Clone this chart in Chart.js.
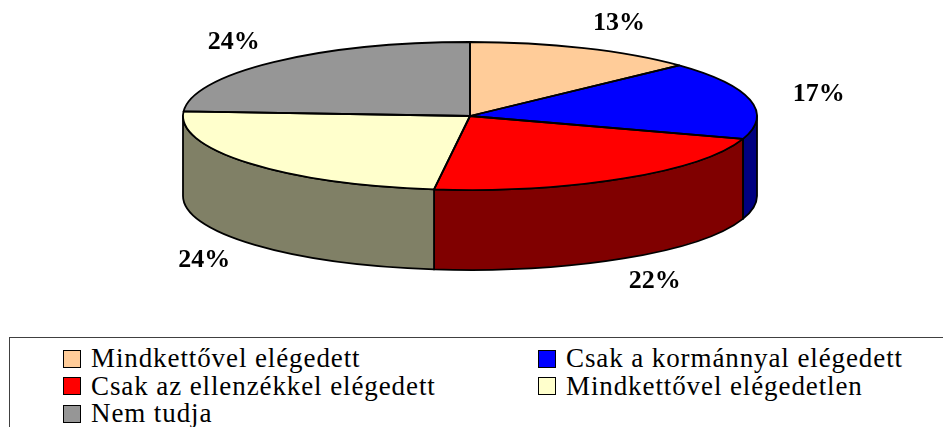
<!DOCTYPE html>
<html>
<head>
<meta charset="utf-8">
<script src="https://cdn.jsdelivr.net/npm/chart.js@4.4.0/dist/chart.umd.min.js"></script>
<style>
  body { margin: 0; width: 943px; height: 427px; overflow: hidden; background: #fff; position: relative; }
  #chartBox { position: absolute; left: 0; top: 0; width: 943px; height: 337px; }
  #legendBox { position: absolute; left: 9px; top: 337px; width: 1000px; height: 120px; border: 1px solid #404040; }
  #legendList { position: absolute; left: 53px; top: 7px; display: grid; grid-template-columns: 475px auto; }
  .legend-item { display: flex; align-items: center; height: 27.5px; color: #000; white-space: nowrap;
                 font-family: 'Liberation Serif', 'DejaVu Serif', serif; font-size: 27px; letter-spacing: 0.9px; }
  .legend-swatch { width: 16px; height: 16px; border: 1.5px solid #000; margin-right: 10px; flex: none; }
</style>
</head>
<body>
<div id="chartBox"><canvas id="pieChart" width="943" height="337"></canvas></div>
<div id="legendBox"><div id="legendList"></div></div>
<script>
// Data
const sliceLabels = [
    'Mindkettővel elégedett',
    'Csak a kormánnyal elégedett',
    'Csak az ellenzékkel elégedett',
    'Mindkettővel elégedetlen',
    'Nem tudja'
];
const sliceValues = [13, 17, 22, 24, 24];

// Styles
const topColors = ['#FFCC99', '#0000FF', '#FF0000', '#FFFFCC', '#969696'];
const sideColors = ['#80664D', '#000080', '#800000', '#808066', '#4B4B4B'];

// Ellipse geometry of the top face (pixels)
const CX = 470, CY = 116, RX = 287, RY = 74, DEPTH = 80;
const EDGE = 1.8;

function wallPath(ctx, a0, a1) {
    ctx.beginPath();
    ctx.moveTo(CX + RX * Math.cos(a0), CY + RY * Math.sin(a0));
    ctx.ellipse(CX, CY, RX, RY, 0, a0, a1);
    ctx.lineTo(CX + RX * Math.cos(a1), CY + DEPTH + RY * Math.sin(a1));
    ctx.ellipse(CX, CY + DEPTH, RX, RY, 0, a1, a0, true);
    ctx.closePath();
}

// Turns the flat Chart.js pie into a tilted 3D one
const pie3d = {
    id: 'pie3d',
    beforeDatasetsDraw(chart) {
        const ctx = chart.ctx;
        const arcs = chart.getDatasetMeta(0).data;

        // side walls, only the front half is visible
        arcs.forEach((arc, i) => {
            const a0 = Math.max(arc.startAngle, 0);
            const a1 = Math.min(arc.endAngle, Math.PI);
            if (a1 <= a0) return;
            wallPath(ctx, a0, a1);
            ctx.fillStyle = sideColors[i];
            ctx.fill();
            ctx.lineWidth = EDGE;
            ctx.strokeStyle = '#000';
            ctx.lineJoin = 'round';
            ctx.stroke();
        });

        // squash the round pie into the top ellipse
        const p = arcs[0];
        ctx.save();
        ctx.translate(CX, CY);
        ctx.scale(RX / p.outerRadius, RY / p.outerRadius);
        ctx.translate(-p.x, -p.y);
    },
    afterDatasetsDraw(chart) {
        const ctx = chart.ctx;
        ctx.restore();
        const arcs = chart.getDatasetMeta(0).data;

        // outlines of the top face
        arcs.forEach(arc => {
            ctx.beginPath();
            ctx.moveTo(CX, CY);
            ctx.ellipse(CX, CY, RX, RY, 0, arc.startAngle, arc.endAngle);
            ctx.closePath();
            ctx.lineWidth = EDGE;
            ctx.strokeStyle = '#000';
            ctx.lineJoin = 'round';
            ctx.stroke();
        });

        // percentage labels
        ctx.font = 'bold 26px "Liberation Serif", "DejaVu Serif", serif';
        ctx.fillStyle = '#000';
        ctx.textAlign = 'center';
        ctx.textBaseline = 'middle';
        arcs.forEach((arc, i) => {
            const mid = (arc.startAngle + arc.endAngle) / 2;
            const c = Math.cos(mid), s = Math.sin(mid);
            const x = CX + (RX + 58) * c + (c > 0 && s < 0 ? 12 : 0);
            const y = CY + (RY + 27) * s + (s > 0 ? DEPTH : 0);
            ctx.fillText(sliceValues[i] + '%', x, y);
        });
    }
};

const pieChart = new Chart(document.getElementById('pieChart'), {
    type: 'pie',
    data: {
        labels: sliceLabels,
        datasets: [{
            data: sliceValues,
            backgroundColor: topColors,
            borderWidth: 0,
            clip: false
        }]
    },
    options: {
        responsive: false,
        animation: false,
        events: [],
        plugins: {
            legend: { display: false },
            tooltip: { enabled: false }
        }
    },
    plugins: [pie3d]
});

// Legend
const legendList = document.getElementById('legendList');
sliceLabels.forEach((label, i) => {
    const item = document.createElement('div');
    item.className = 'legend-item';
    const swatch = document.createElement('span');
    swatch.className = 'legend-swatch';
    swatch.style.background = topColors[i];
    item.appendChild(swatch);
    item.appendChild(document.createTextNode(label));
    legendList.appendChild(item);
});
</script>
</body>
</html>
